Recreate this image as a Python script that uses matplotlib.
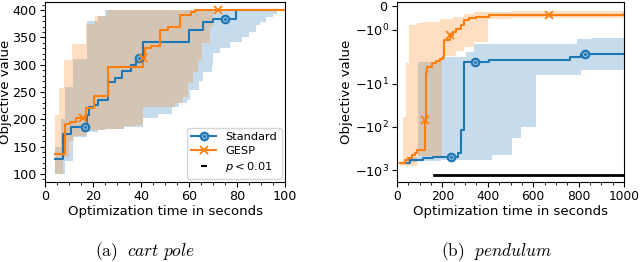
import numpy as np
import matplotlib
matplotlib.use('Agg')
import matplotlib.pyplot as plt
from matplotlib.lines import Line2D
from matplotlib.ticker import MultipleLocator, NullLocator

blue = '#1f77b4'
orange = '#ff7f0e'

# ---- cart pole (left) ----
cp_std_t = [4, 7.6, 11, 17.4, 18.5, 20.5, 22, 26.3, 29, 32, 36, 38, 40.8, 59.8, 66, 70, 79.5, 100]
cp_std_v = [128, 173, 185, 207, 222, 226, 235, 268, 275, 289, 300, 313, 342, 363, 379, 383, 400, 400]
cp_std_mark = [16.5, 39.3, 75]

cp_gesp_t = [4, 8.3, 10.5, 13, 17.2, 20.3, 26.4, 40.8, 41.7, 44, 47.9, 51.4, 56.3, 61, 62.5, 100]
cp_gesp_v = [137, 192, 195, 202, 221, 242, 296, 313, 330, 335, 363, 370, 391, 396, 400, 400]
cp_gesp_mark = [15.7, 41, 72]

cp_std_band_t = [4, 6.5, 8.3, 11.7, 17.5, 22, 25, 33, 41, 47, 53, 56, 59, 60.4, 64, 66, 69.4, 70,
                 73, 77, 82, 85, 88, 89.6, 92, 95, 96.5]
cp_std_lo = [100, 100, 123, 168, 177, 180, 182, 185, 202, 209, 222, 230, 235, 254, 270, 287, 299, 321,
             330, 342, 350, 360, 372, 379, 387, 393, 400]
cp_std_hi = [150, 200, 260, 310, 380, 390, 400, 400, 400, 400, 400, 400, 400, 400, 400, 400, 400, 400,
             400, 400, 400, 400, 400, 400, 400, 400, 400]

cp_gesp_band_t = [4, 5.8, 7.6, 8, 10, 11.4, 12, 17, 21, 25, 26, 33, 38, 40.8, 50, 54, 57.6, 59.7,
                  61.8, 63.9, 65.3, 68.8, 70.1]
cp_gesp_lo = [100, 100, 130, 130, 160, 160, 170, 180, 180, 183, 183, 187, 190, 222, 222, 230, 241, 266,
              287, 309, 339, 369, 400]
cp_gesp_hi = [208, 257, 257, 309, 309, 338, 338, 375, 390, 390, 400, 400, 400, 400, 400, 400, 400, 400,
              400, 400, 400, 400, 400]

# ---- pendulum (right) ----
pd_std_t = [13, 57, 114, 158, 267, 280, 297, 406, 764, 810, 1000]
pd_std_v = [-690, -590, -530, -490, -406, -118, -3.05, -2.75, -2.35, -2.05, -2.05]
pd_std_mark = [240, 343, 829]

pd_gesp_t = [13, 35, 48, 64, 79, 86, 122, 128, 134, 152, 170, 188, 202, 205, 232, 246, 261, 280,
             297, 318, 349, 406, 550, 1000]
pd_gesp_v = [-690, -590, -530, -450, -406, -346, -69.5, -5.2, -4.0, -3.33, -3.0, -2.7, -2.35, -1.42,
             -1.21, -1.07, -0.94, -0.8, -0.59, -0.52, -0.45, -0.38, -0.36, -0.34]
pd_gesp_mark = [122, 232, 669]

pd_std_band_t = [13, 50, 92, 195, 305, 341, 420, 508, 545, 611, 791, 810, 858, 1000]
pd_std_hi = [-650, -500, -3.05, -2.35, -1.91, -1.6, -1.6, -1.6, -1.6, -1.6, -1.36, -1.36, -1.32, -1.32]
pd_std_lo = [-720, -650, -620, -600, -590, -590, -450, -180, -100, -6.2, -6.2, -4.8, -4.8, -4.8]

pd_gesp_band_t = [13, 25, 38, 52, 90, 114, 188, 200, 245, 261, 297, 340, 400, 500, 1000]
pd_gesp_hi = [-690, -60, -3.3, -0.8, -0.7, -0.65, -0.56, -0.56, -0.45, -0.45, -0.33, -0.26, -0.24,
              -0.22, -0.2]
pd_gesp_lo = [-800, -800, -800, -800, -480, -480, -470, -2.3, -2.3, -1.9, -1.7, -1.5, -0.55, -0.5,
              -0.41]

sig_t = [165, 1000]
sig_v = [-1300, -1300]


def step_at(ts, vs, q):
    idx = np.searchsorted(ts, q, side='right') - 1
    return np.asarray(vs)[idx]


def draw(ax, std, gesp, std_band, gesp_band):
    st, sv, sm = std
    gt, gv, gm = gesp
    ax.fill_between(std_band[0], std_band[1], std_band[2], step='post', color=blue, alpha=0.25, lw=0)
    ax.fill_between(gesp_band[0], gesp_band[1], gesp_band[2], step='post', color=orange, alpha=0.25, lw=0)
    l1, = ax.plot(st, sv, drawstyle='steps-post', color=blue, lw=1.5)
    l2, = ax.plot(gt, gv, drawstyle='steps-post', color=orange, lw=1.5)
    m1, = ax.plot(sm, step_at(st, sv, sm), ls='none', marker='o', ms=6, color=blue)
    m1b, = ax.plot(sm, step_at(st, sv, sm), ls='none', marker='o', ms=3, mfc='none', mec='#8fbbe0', mew=0.8)
    m2, = ax.plot(gm, step_at(gt, gv, gm), ls='none', marker='x', ms=6, mew=1.3, color=orange)
    return (l1, m1, m1b), (l2, m2)


fs = 9.2
fig = plt.figure(figsize=(6.4, 2.62), dpi=100)
ax1 = fig.add_axes([45 / 640, 80 / 262, 240 / 640, 180 / 262])
ax2 = fig.add_axes([397 / 640, 80 / 262, 227 / 640, 180 / 262])

h_std, h_gesp = draw(ax1, (cp_std_t, cp_std_v, cp_std_mark), (cp_gesp_t, cp_gesp_v, cp_gesp_mark),
                     (cp_std_band_t, cp_std_lo, cp_std_hi), (cp_gesp_band_t, cp_gesp_lo, cp_gesp_hi))
ax1.set_xlim(0, 100)
ax1.set_ylim(85, 415)
ax1.xaxis.set_major_locator(MultipleLocator(20))
ax1.xaxis.set_minor_locator(MultipleLocator(5))
ax1.yaxis.set_major_locator(MultipleLocator(50))
ax1.yaxis.set_minor_locator(MultipleLocator(10))
ax1.set_xlabel('Optimization time in seconds', fontsize=9.5, labelpad=1)
ax1.set_ylabel('Objective value', fontsize=9.5)
ax1.yaxis.set_label_coords(-33 / 240, 0.5)
ax1.tick_params(labelsize=fs, pad=2.5)

sig_handle = Line2D([], [], color='black', marker='_', ls='none', ms=5, mew=1.5)
ax1.legend([h_std, h_gesp, sig_handle], ['Standard', 'GESP', '$p < 0.01$'], loc='lower right',
           fontsize=8.2, borderaxespad=0.3, handlelength=2.2, labelspacing=0.35)

draw(ax2, (pd_std_t, pd_std_v, pd_std_mark), (pd_gesp_t, pd_gesp_v, pd_gesp_mark),
     (pd_std_band_t, pd_std_lo, pd_std_hi), (pd_gesp_band_t, pd_gesp_lo, pd_gesp_hi))
ax2.plot(sig_t, sig_v, color='black', lw=2)
ax2.set_yscale('symlog', linthresh=2)
ax2.set_xlim(0, 1000)
ax2.set_ylim(-1900, 0.17)
ax2.set_yticks([-1000, -100, -10, -1, 0])
ax2.yaxis.set_minor_locator(NullLocator())
ax2.xaxis.set_major_locator(MultipleLocator(200))
ax2.xaxis.set_minor_locator(MultipleLocator(50))
ax2.set_xlabel('Optimization time in seconds', fontsize=9.5, labelpad=1)
ax2.set_ylabel('Objective value', fontsize=9.5)
ax2.yaxis.set_label_coords(-44 / 227, 0.5)
ax2.tick_params(labelsize=fs, pad=2.5)
ax2.tick_params(axis='x', labelsize=8.8)

fig.text(145 / 640, 1 - 252 / 262, r'$\mathrm{(a)}\ \ \mathit{cart\ pole}$', fontsize=12.5,
         ha='center', va='center', math_fontfamily='cm')
fig.text(497 / 640, 1 - 252 / 262, r'$\mathrm{(b)}\ \ \mathit{pendulum}$', fontsize=12.5,
         ha='center', va='center', math_fontfamily='cm')

fig.savefig('out.png', dpi=100)
